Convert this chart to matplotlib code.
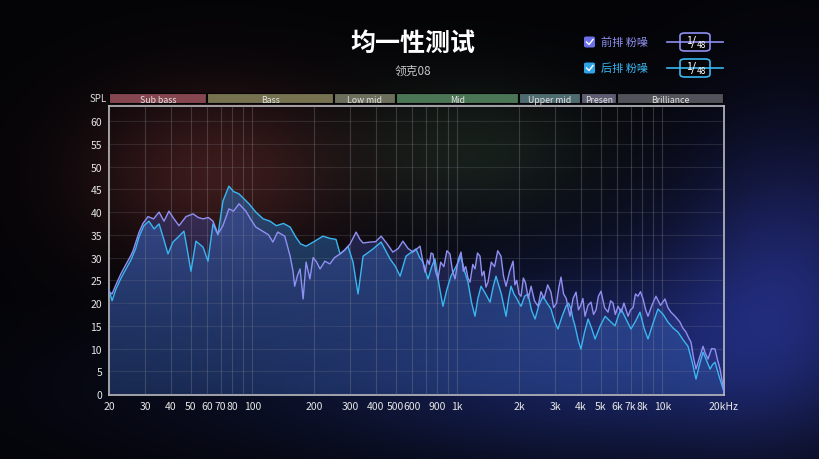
import numpy as np
import matplotlib
matplotlib.use("Agg")
import matplotlib.pyplot as plt
from matplotlib.patches import FancyBboxPatch
from matplotlib.lines import Line2D

plt.rcParams['font.family'] = ['Noto Sans CJK SC', 'DejaVu Sans']

# 前排 (front row) pink noise response
FRONT_HZ = [20, 20.7, 21.6, 22.9, 24.2, 25.6, 26.2, 28.0, 29.3, 31.0, 33.0, 35.1, 37.1, 39.2,
            41.5, 43.9, 47.5, 51.4, 54.5, 57.5, 61, 64.3, 68.0, 71.9, 76.9, 81, 86.1, 93.1,
            98, 104, 114, 120, 126, 133, 144, 153, 158, 161, 166, 171, 177, 183, 191, 198,
            206, 214, 226, 239, 252, 268, 286, 300, 321, 335, 347, 375, 400, 425, 455, 485,
            515, 543, 575, 608, 658, 680, 696, 715, 730, 745, 761, 783, 805, 830, 860, 890,
            921, 948, 975, 1010, 1043, 1070, 1100, 1128, 1154, 1190, 1220, 1255, 1291, 1320,
            1350, 1380, 1412, 1465, 1520, 1575, 1634, 1680, 1729, 1800, 1871, 1910, 1950,
            2000, 2047, 2100, 2150, 2220, 2291, 2380, 2478, 2560, 2650, 2760, 2864, 2950,
            3050, 3130, 3206, 3300, 3400, 3470, 3549, 3670, 3796, 3900, 4000, 4100, 4198,
            4340, 4490, 4620, 4750, 4880, 5024, 5230, 5436, 5600, 5750, 5900, 6082, 6300,
            6500, 6808, 7000, 7200, 7400, 7608, 7830, 8054, 8300, 8517, 8900, 9314, 9800,
            10306, 10650, 11025, 11600, 12199, 12600, 13062, 13400, 13805, 14200, 14604,
            15200, 15800, 16200, 16710, 17400, 18080, 18600, 19130, 20000]
FRONT_DB = [22.5, 22, 24, 26.5, 28.5, 30.5, 31.5, 35.5, 37.5, 39, 38.5, 40, 38, 40.2,
            38.5, 37, 39, 39.6, 38.8, 38.5, 38.8, 38, 35.2, 37, 40.7, 40.2, 41.8, 40.2,
            38.5, 36.7, 35.6, 35, 33.4, 35.6, 34.7, 30.3, 27, 23.7, 26, 27.5, 20.9, 29, 25.3, 30,
            29, 27.5, 29.2, 28.6, 30, 30.8, 31.9, 33, 35.6, 34, 33.2, 33.4, 33.5, 34.7, 33, 31.2,
            32, 33.6, 32, 31.2, 32.5, 29, 26.8, 29.5, 28.5, 31, 30.8, 27, 25.3, 29, 28, 31.5,
            30.8, 27, 25.3, 29.5, 31.2, 27, 28, 25.5, 24.6, 28.5, 27.5, 31, 30.3, 26,
            27, 23.5, 24.6, 29, 28, 31.5, 30.3, 26, 23.7, 27, 29.2, 24, 25,
            22, 21.5, 25.5, 24.5, 21, 23.7, 20.5, 19.3, 22.5, 21, 24, 22.4, 19,
            20, 23.5, 25.7, 22, 21, 19, 17.1, 21, 22.4, 18.5, 19.5, 21, 17.1,
            19.5, 20.2, 17.5, 18.5, 21.5, 22.6, 19, 18, 20.5, 20, 17.5, 19.3, 18,
            20, 17.1, 18.5, 19, 22, 21.5, 22.5, 20.9, 18.5, 17.1, 19.5, 21.5, 19.5,
            20.9, 19, 18, 17, 15.8, 14.5, 13.6, 12.5, 11.4, 8, 5.5,
            8, 10.5, 9, 7.7, 10, 9.9, 7.5, 5.5, 0.5]

# 后排 (rear row) pink noise response
REAR_HZ = [20, 20.7, 21.6, 22.9, 24.2, 25.6, 27, 28.0, 29.6, 31.3, 33.2, 35.1, 37, 38.8,
           41.0, 43.5, 46.4, 48.5, 50.2, 53.1, 57.5, 60.8, 64.3, 68.0, 71.9, 76.9, 81, 86.1,
           93.1, 96.4, 104, 113, 122, 131, 142, 153, 163, 172, 183, 200, 221, 240, 256, 268,
           280, 293, 310, 328, 347, 365, 388, 425, 470, 500, 526, 562, 629, 655, 681, 700,
           720, 750, 778, 815, 851, 890, 931, 985, 1043, 1085, 1128, 1175, 1220, 1260, 1306,
           1375, 1445, 1495, 1545, 1590, 1640, 1685, 1729, 1780, 1829, 1890, 1950, 2000,
           2047, 2130, 2213, 2300, 2395, 2500, 2619, 2740, 2864, 2980, 3098, 3240, 3390,
           3490, 3589, 3670, 3752, 3880, 4009, 4170, 4345, 4520, 4700, 4980, 5262, 5570,
           5879, 6080, 6291, 6650, 7035, 7400, 7785, 8150, 8517, 9000, 9527, 10100, 10662,
           11300, 11937, 12600, 13349, 14000, 14604, 15200, 15800, 16400, 17100, 17600,
           18080, 18900, 20000]
REAR_DB = [23, 20.5, 23, 25.5, 27.5, 29.5, 32, 34.5, 37, 38, 36.3, 37.4, 34, 30.8,
           33.4, 34.5, 35.8, 31, 27, 33.6, 32.3, 29.2, 37.4, 35, 42.4, 45.7, 44.5, 44,
           42.5, 41.8, 40, 38.5, 38, 37, 37.5, 36.7, 34.5, 33, 32.5, 33.5, 34.7, 34.2, 34, 30.8,
           31.5, 32.5, 29, 22, 30.3, 31, 31.9, 33.4, 29.7, 28, 25.9, 30.3, 31.9, 30, 29, 27,
           25.3, 28, 29.7, 24, 19.3, 23, 25.9, 28, 30.3, 27, 24.6, 20, 17.1, 21, 23.7,
           22, 20.2, 23.5, 25.9, 24, 22, 19.5, 17.1, 21, 23.7, 22, 21, 20,
           19.3, 21.5, 22, 18.5, 16.5, 19.5, 21.5, 20, 18.7, 16, 14.3, 17, 19.3,
           20, 18.7, 16.5, 15, 12, 9.9, 13.5, 16.5, 14.5, 12.1, 15, 17.1, 16,
           15, 17, 18.7, 16.5, 14.3, 16, 18, 14.5, 12.1, 15.5, 18.7, 17.5, 15.8,
           14.5, 13.6, 12, 10.5, 7, 3.3, 6.5, 9.2, 7.5, 5.5, 6.5,
           7, 4, 0.5]

BANDS = ["Sub bass", "Bass", "Low mid", "Mid", "Upper mid", "Presen", "Brilliance"]
BAND_EDGES = [20, 60, 250, 500, 2000, 4000, 6000, 20000]
BAND_COLORS = ["#86464f", "#767250", "#6c6f5c", "#4a7656", "#4e6b70", "#5d5c70", "#52525a"]

# the source chart prints "900" at the 800 Hz gridline
XTICKS = [20, 30, 40, 50, 60, 70, 80, 100, 200, 300, 400, 500, 600, 800, 1000,
          2000, 3000, 4000, 5000, 6000, 7000, 8000, 10000, 20000]
XTICK_LABELS = ["20", "30", "40", "50", "60", "70", "80", "100", "200", "300", "400", "500",
                "600", "900", "1k", "2k", "3k", "4k", "5k", "6k", "7k", "8k", "10k", "20kHz"]
YTICKS = list(range(0, 61, 5))

FRONT_COLOR = "#9090f2"
REAR_COLOR = "#3ab6f0"

W, H = 820, 460
fig = plt.figure(figsize=(8.2, 4.6), dpi=100)
fig.patch.set_facecolor("#050507")

# background glow
bg = fig.add_axes([0, 0, 1, 1], zorder=-10)
bg.axis("off")
yy, xx = np.mgrid[0:H, 0:W]
img = np.zeros((H, W, 3)) + np.array([4, 4, 7])


def blob(cx, cy, sx, sy, col):
    g = np.exp(-(((xx - cx) / sx) ** 2 + ((yy - cy) / sy) ** 2) / 2)
    return g[..., None] * np.array(col)


img += blob(215, 175, 90, 60, [55, 22, 20])
img += blob(470, 150, 90, 50, [18, 26, 18])
img += blob(790, 280, 85, 110, [22, 28, 82])
img += blob(630, 350, 150, 80, [14, 22, 62])
img += blob(420, 390, 220, 55, [8, 13, 36])
bg.imshow(np.clip(img, 0, 255).astype(np.uint8), extent=[0, 1, 0, 1], aspect="auto")
bg.set_xlim(0, 1)
bg.set_ylim(0, 1)

ax = fig.add_axes([109 / W, 1 - 396 / H, 615 / W, 289 / H])
ax.set_facecolor("none")
ax.set_xscale("log")
ax.set_xlim(20, 20000)
ax.set_ylim(-0.2, 63.3)


def gradient_fill(ax, x, y, rgb, a_top, a_bot, z):
    poly = ax.fill_between(x, y, -0.2, facecolor="none", edgecolor="none")
    grad = np.zeros((256, 1, 4))
    grad[..., :3] = np.array(rgb) / 255
    grad[:, 0, 3] = np.linspace(a_bot, a_top, 256)
    im = ax.imshow(grad, extent=[20, 20000, -0.2, 46], origin="lower",
                   aspect="auto", zorder=z, interpolation="bilinear")
    im.set_clip_path(poly.get_paths()[0], transform=ax.transData)


gradient_fill(ax, REAR_HZ, REAR_DB, (42, 100, 170), 0.62, 0.28, 1)
gradient_fill(ax, FRONT_HZ, FRONT_DB, (72, 80, 178), 0.42, 0.15, 1.1)

ax.set_xticks(XTICKS)
ax.set_xticklabels(XTICK_LABELS)
ax.xaxis.set_minor_locator(matplotlib.ticker.LogLocator(base=10, subs=np.arange(1, 10)))
ax.xaxis.set_minor_formatter(matplotlib.ticker.NullFormatter())
ax.set_yticks(YTICKS)
ax.grid(True, which="both", axis="x", color="#8a8a95", alpha=0.32, lw=0.8)
ax.grid(True, which="major", axis="y", color="#8a8a95", alpha=0.2, lw=0.8)
ax.set_axisbelow(False)
ax.tick_params(which="both", length=0, colors="#e6e6e6", labelsize=7.5, pad=4)
ax.tick_params(axis="y", pad=5)
for s in ax.spines.values():
    s.set_color("#bdbdc2")
    s.set_linewidth(1.2)

ax.plot(REAR_HZ, REAR_DB, color=REAR_COLOR, lw=1.0, zorder=3)
ax.plot(FRONT_HZ, FRONT_DB, color=FRONT_COLOR, lw=1.0, zorder=3)

# frequency band bar
band = fig.add_axes([109 / W, 1 - 105 / H, 615 / W, 11 / H])
band.set_xscale("log")
band.set_xlim(20, 20000)
band.set_ylim(0, 1)
band.axis("off")
for name, lo, hi, c in zip(BANDS, BAND_EDGES[:-1], BAND_EDGES[1:], BAND_COLORS):
    band.barh(0.5, hi - lo, left=lo, height=1, color=c, edgecolor="#050507", lw=1.5)
    band.text(np.sqrt(lo * hi), 0.45, name, ha="center", va="center",
              color="#e2e2e2", fontsize=6.3)

fig.text(98 / W, 1 - 99 / H, "SPL", ha="center", va="center", color="#d8d8d8", fontsize=7)

# title
fig.text(413 / W, 1 - 44 / H, "均一性测试", ha="center", va="center", color="white",
         fontsize=18, fontweight="bold")
fig.text(413 / W, 1 - 71 / H, "领克08", ha="center", va="center", color="#c4c4c4",
         fontsize=8.5)

# legend
for row, (label, col, edge) in enumerate([("前排 粉噪", "#6c70e8", FRONT_COLOR),
                                          ("后排 粉噪", "#2ea4e8", REAR_COLOR)]):
    cy = 43 + 26 * row
    fig.add_artist(FancyBboxPatch((584 / W, 1 - (cy + 5.5) / H), 11 / W, 11 / H,
                                  boxstyle="round,pad=0,rounding_size=0.003",
                                  transform=fig.transFigure, facecolor=col, edgecolor="none"))
    fig.add_artist(Line2D([586.5 / W, 589 / W, 593 / W],
                          [1 - cy / H, 1 - (cy + 2.5) / H, 1 - (cy - 2.5) / H],
                          transform=fig.transFigure, color="white", lw=1.0))
    fig.text(601 / W, 1 - cy / H, label, ha="left", va="center", color=edge, fontsize=8)
    fig.add_artist(Line2D([667 / W, 723 / W], [1 - cy / H, 1 - cy / H],
                          transform=fig.transFigure, color=edge, lw=1.2))
    fig.add_artist(FancyBboxPatch((680 / W, 1 - (cy + 9) / H), 30 / W, 18 / H,
                                  boxstyle="round,pad=0,rounding_size=0.006",
                                  transform=fig.transFigure, facecolor="#050507",
                                  edgecolor=edge, lw=1.2))
    fig.text(688.5 / W, 1 - (cy - 2.5) / H, "1", ha="center", va="center", color="white", fontsize=7.5)
    fig.text(693.5 / W, 1 - cy / H, "/", ha="center", va="center", color="white", fontsize=9.5)
    fig.text(701.5 / W, 1 - (cy + 3) / H, "48", ha="center", va="center", color="white", fontsize=6)

fig.savefig("out.png", dpi=100, facecolor=fig.get_facecolor())
